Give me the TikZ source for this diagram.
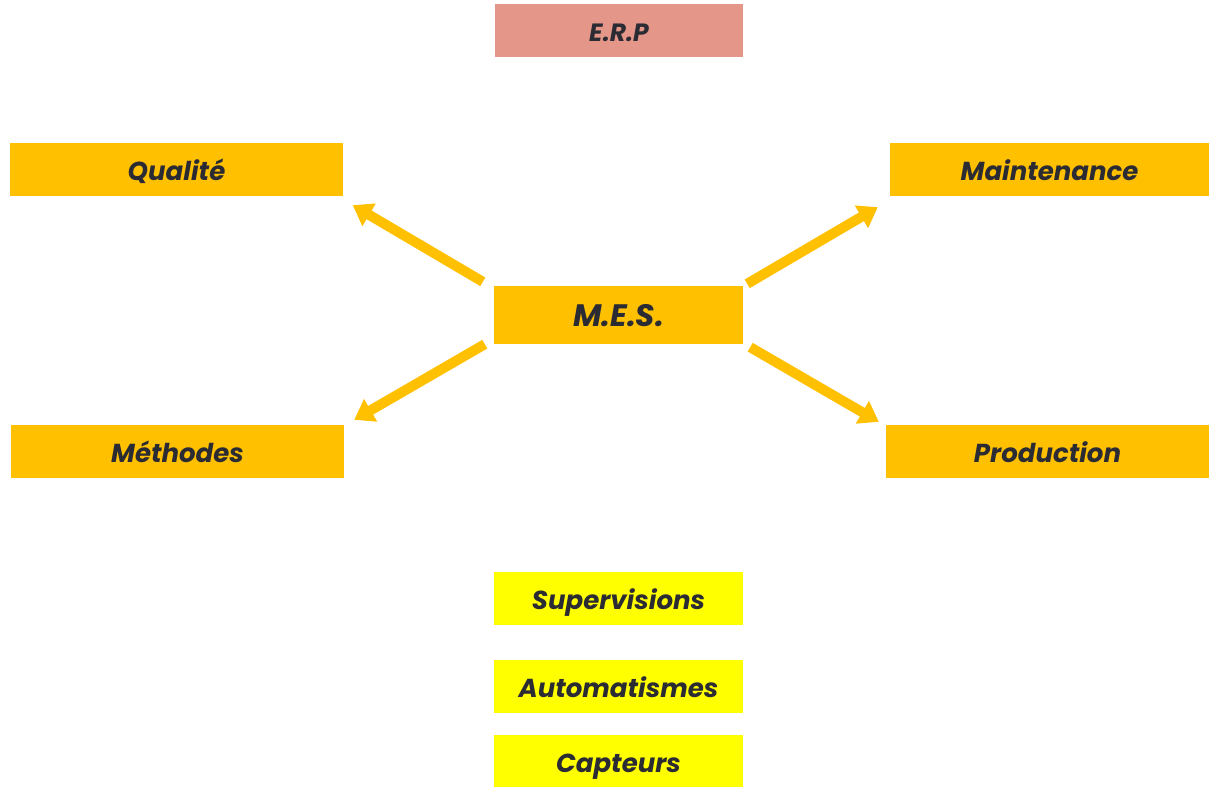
\documentclass[tikz,border=0pt]{standalone}
\usepackage{fontspec}
\setmainfont{Poppins}
\usetikzlibrary{arrows.meta, positioning, calc}
\definecolor{erpcolor}{RGB}{228, 151, 137}
\definecolor{mescolor}{RGB}{255, 192, 0}
\definecolor{fieldcolor}{RGB}{255, 255, 0}
\definecolor{textcolor}{RGB}{43, 43, 51}

\begin{document}
\begin{tikzpicture}[
    x=1pt, y=-1pt,
    >={Triangle[length=19pt, width=25pt]},
    block/.style={rectangle, inner sep=0pt, minimum height=53pt, text height=25pt, text depth=3pt, align=center, text=textcolor, font=\fontsize{26}{30}\selectfont\bfseries\itshape},
    arrow/.style={->, line width=10pt, mescolor}
]

\useasboundingbox (0, 0) rectangle (1210, 787);

% ERP
\node[block, fill=erpcolor, minimum width=248pt, font=\fontsize{25}{30}\selectfont\bfseries\itshape] (erp) at (619, 30.5) {E.R.P};

% MES and the four services
\node[block, fill=mescolor, minimum width=249pt, minimum height=58pt, font=\fontsize{31}{36}\selectfont\bfseries\itshape] (mes) at (618.5, 315) {M.E.S.};

\node[block, fill=mescolor, minimum width=333pt] (qualite) at (176.5, 169.5) {Qualité};
\node[block, fill=mescolor, minimum width=319pt] (maintenance) at (1049.5, 169.5) {Maintenance};
\node[block, fill=mescolor, minimum width=333pt] (methodes) at (177.5, 451.5) {Méthodes};
\node[block, fill=mescolor, minimum width=323pt] (production) at (1047.5, 451.5) {Production};

% Arrows
\draw[arrow] ($(mes.north west)+(-11,-4)$) -- ($(qualite.south east)+(9.5,9)$);
\draw[arrow] ($(mes.north east)+(4,-2)$) -- ($(maintenance.south west)+(-12,11)$);
\draw[arrow] ($(mes.south west)+(-9,0)$) -- ($(methodes.north east)+(10,-5)$);
\draw[arrow] ($(mes.south east)+(7,3)$) -- ($(production.north west)+(-7,-3)$);

% Field level
\foreach \name/\y/\txt in {sup/598.5/Supervisions, auto/686.5/Automatismes, capt/761/Capteurs} {
    \node[block, fill=fieldcolor, minimum width=249pt] (\name) at (618.5, \y) {\txt};
}

\end{tikzpicture}
\end{document}
